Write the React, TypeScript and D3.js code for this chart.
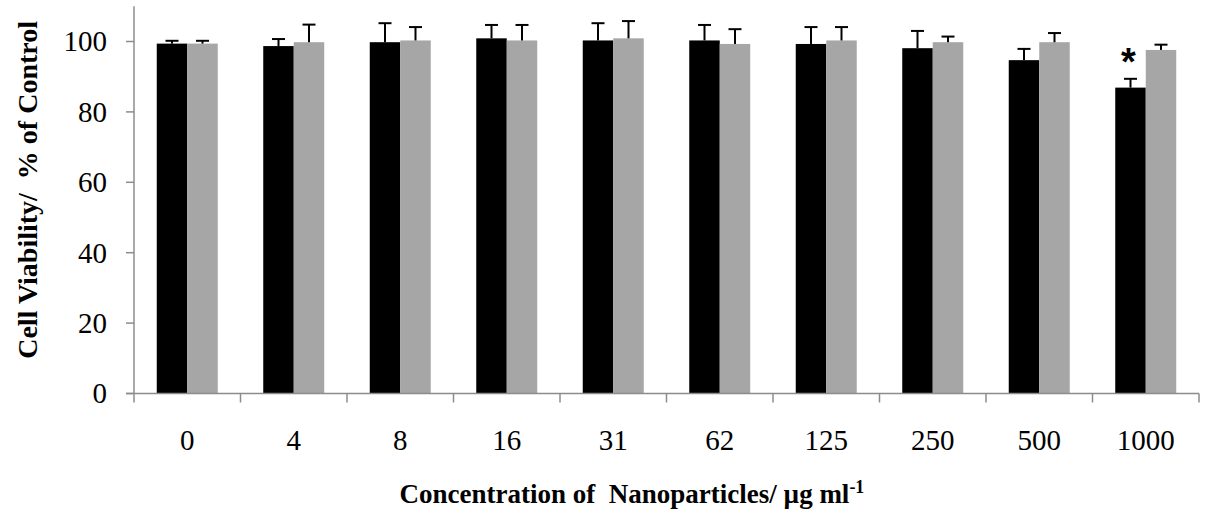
import React from "react";
import * as d3 from "d3";

const categories = ["0", "4", "8", "16", "31", "62", "125", "250", "500", "1000"];
const seriesNames = ["A", "B"];
const seriesA = [99.4, 98.7, 99.8, 100.9, 100.3, 100.3, 99.3, 98.1, 94.7, 86.9];
const errorsA = [0.8, 2.0, 5.4, 3.8, 4.9, 4.4, 4.8, 4.9, 3.2, 2.5];
const seriesB = [99.4, 99.8, 100.3, 100.3, 100.9, 99.3, 100.3, 99.8, 99.8, 97.6];
const errorsB = [0.8, 5.0, 3.8, 4.4, 4.9, 4.2, 3.8, 1.6, 2.6, 1.5];
const yTicks = [0, 20, 40, 60, 80, 100];
const significant = [false, false, false, false, false, false, false, false, false, true];

const W = 1207;
const H = 518;
const left = 134;
const right = 1199;
const bottom = 393.5;

export default function App() {
  const x = d3.scaleBand<string>().domain(categories).range([left, right]).padding(0);
  const inner = d3
    .scaleBand<string>()
    .domain(seriesNames)
    .range([0, x.bandwidth()])
    .paddingInner(0)
    .paddingOuter(0.746);
  const y = d3.scaleLinear().domain([0, 110]).range([bottom, bottom - 110 * 3.52]);

  const series = [
    { name: "A", values: seriesA, errors: errorsA, color: "#000000" },
    { name: "B", values: seriesB, errors: errorsB, color: "#a6a6a6" },
  ];
  const font = "'Liberation Serif', 'Times New Roman', serif";
  const axisColor = "#8c8c8c";

  return (
    <svg
      width={W}
      height={H}
      style={{ position: "absolute", left: 0, top: 0, background: "#fff" }}
      fontFamily={font}
    >
      {series.map((s) =>
        categories.map((c, i) => {
          const bx = (x(c) as number) + (inner(s.name) as number);
          const bw = inner.bandwidth();
          return (
            <rect
              key={s.name + c}
              x={bx}
              y={y(s.values[i])}
              width={bw}
              height={y(0) - y(s.values[i])}
              fill={s.color}
            />
          );
        })
      )}
      {series.map((s) =>
        categories.map((c, i) => {
          const cx = (x(c) as number) + (inner(s.name) as number) + inner.bandwidth() / 2;
          const top = y(s.values[i] + s.errors[i]);
          return (
            <g key={"e" + s.name + c} stroke="#000" strokeWidth={2}>
              <line x1={cx} x2={cx} y1={y(s.values[i])} y2={top} />
              <line x1={cx - 6.5} x2={cx + 6.5} y1={top} y2={top} />
            </g>
          );
        })
      )}
      {categories.map((c, i) =>
        significant[i] ? (
          <text
            key={"s" + c}
            x={(x(c) as number) + (inner("A") as number) + inner.bandwidth() / 2 - 2}
            y={y(seriesA[i] + errorsA[i]) - 4}
            textAnchor="middle"
            fontSize={38}
            fontWeight="bold"
            fontFamily="'Liberation Sans', Arial, sans-serif"
          >
            *
          </text>
        ) : null
      )}
      <line x1={left} x2={left} y1={y(110)} y2={bottom} stroke={axisColor} strokeWidth={1.5} />
      {yTicks.map((t) => (
        <g key={"yt" + t}>
          <line x1={left - 8} x2={left} y1={y(t)} y2={y(t)} stroke={axisColor} strokeWidth={1.5} />
          <text x={left - 27} y={y(t)} dy="0.34em" textAnchor="end" fontSize={29}>
            {t}
          </text>
        </g>
      ))}
      <line x1={left - 8} x2={right} y1={bottom} y2={bottom} stroke={axisColor} strokeWidth={1.5} />
      {[...categories.map((c) => x(c) as number), right].map((px, i) => (
        <line key={"xt" + i} x1={px} x2={px} y1={bottom} y2={bottom + 9} stroke={axisColor} strokeWidth={1.5} />
      ))}
      {categories.map((c) => (
        <text
          key={"xl" + c}
          x={(x(c) as number) + x.bandwidth() / 2}
          y={450}
          textAnchor="middle"
          fontSize={29}
        >
          {c}
        </text>
      ))}
      <text
        transform={`translate(37, ${(y(110) + bottom) / 2 - 10}) rotate(-90)`}
        textAnchor="middle"
        fontSize={28}
        fontWeight="bold"
        style={{ whiteSpace: "pre" }}
      >
        {"Cell Viability/  % of Control"}
      </text>
      <text x={632} y={503} textAnchor="middle" fontSize={27} fontWeight="bold" style={{ whiteSpace: "pre" }}>
        {"Concentration of  Nanoparticles/ µg ml"}
        <tspan dy={-10} fontSize={18}>-1</tspan>
      </text>
    </svg>
  );
}
